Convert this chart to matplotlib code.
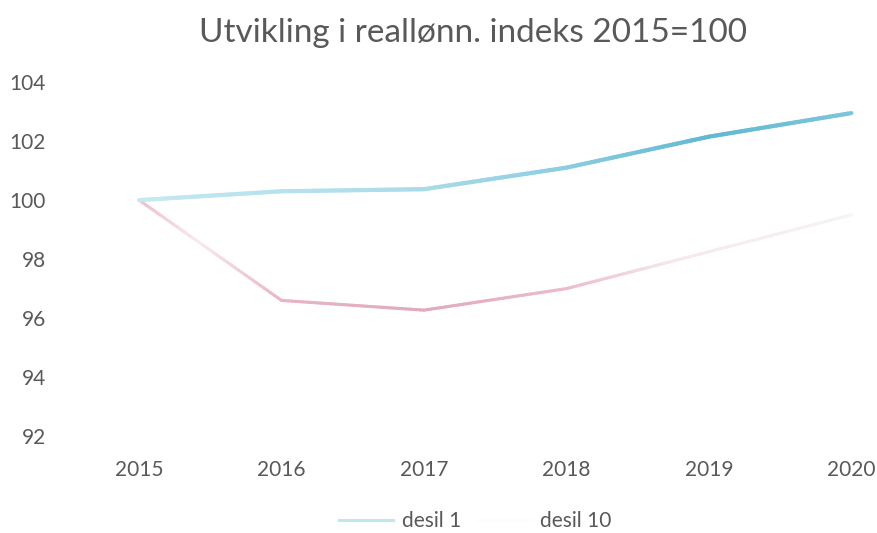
import numpy as np
import matplotlib
matplotlib.use("Agg")
import matplotlib.pyplot as plt
from matplotlib.collections import LineCollection
from matplotlib.colors import LinearSegmentedColormap
from matplotlib.lines import Line2D

plt.rcParams['font.family'] = ['Lato', 'DejaVu Sans']

years = [2015, 2016, 2017, 2018, 2019, 2020]
desil1 = [100.0, 100.3, 100.37, 101.1, 102.15, 102.95]
desil10 = [100.0, 96.6, 96.27, 97.0, 98.25, 99.5]
labels = ["desil 1", "desil 10"]
title = "Utvikling i reallønn. indeks 2015=100"
yticks = [92, 94, 96, 98, 100, 102, 104]

grey = "#595959"

cmap1 = LinearSegmentedColormap.from_list("c1", [
    (0.0, "#c4e9f1"), (0.4, "#a8dbe8"), (0.6, "#8ccde0"),
    (0.8, "#5fb9d2"), (1.0, "#7cc6dc")])
cmap10 = LinearSegmentedColormap.from_list("c10", [
    (0.0, "#eec0cf"), (0.08, "#f8eaef"), (0.2, "#e8b4c6"),
    (0.4, "#e2a9bd"), (0.6, "#ebbccc"), (0.75, "#f6e8ee"), (1.0, "#f6f4f5")])

fig = plt.figure(figsize=(8.77, 5.33), dpi=100)
W, H = 877, 533
left, right, bottom, top = 60, 877, 450, 70
ax = fig.add_axes([left / W, 1 - bottom / H, (right - left) / W, (bottom - top) / H])

def grad_line(x, y, cmap, lw):
    xs, ys = [], []
    for i in range(len(x) - 1):
        t = np.linspace(0, 1, 40, endpoint=False)
        xs.extend(x[i] + (x[i + 1] - x[i]) * t)
        ys.extend(y[i] + (y[i + 1] - y[i]) * t)
    xs.append(x[-1]); ys.append(y[-1])
    xs = np.array(xs); ys = np.array(ys)
    pts = np.column_stack([xs, ys]).reshape(-1, 1, 2)
    segs = np.concatenate([pts[:-1], pts[1:]], axis=1)
    frac = (xs[:-1] - x[0]) / (x[-1] - x[0])
    lc = LineCollection(segs, colors=cmap(frac), linewidths=lw, capstyle='round')
    ax.add_collection(lc)

grad_line(years, desil10, cmap10, 2.2)
grad_line(years, desil1, cmap1, 3.0)

ax.set_xlim(2014.445, 2020.18)
ax.set_ylim(91.53, 104.41)
ax.set_xticks(years)
ax.set_xticklabels([str(y) for y in years])
ax.set_yticks(yticks)
ax.set_yticklabels([str(v) for v in yticks])
ax.tick_params(axis='both', length=0, colors=grey, labelsize=15)
ax.tick_params(axis='x', pad=7)
ax.tick_params(axis='y', pad=10)
for s in ax.spines.values():
    s.set_visible(False)

fig.text(473 / W, 1 - 33 / H, title, ha='center', va='center', fontsize=24,
         color=grey)

handles = [Line2D([], [], color="#c0e6ef", lw=2.2),
           Line2D([], [], color="#fefdfd", lw=2.2)]
fig.legend(handles, labels, loc='center', bbox_to_anchor=(0.542, 1 - 521 / H), ncol=2,
           frameon=False, fontsize=15, labelcolor=grey, handlelength=2.6,
           columnspacing=0.8, handletextpad=0.4)

fig.savefig("out.png", dpi=100)
